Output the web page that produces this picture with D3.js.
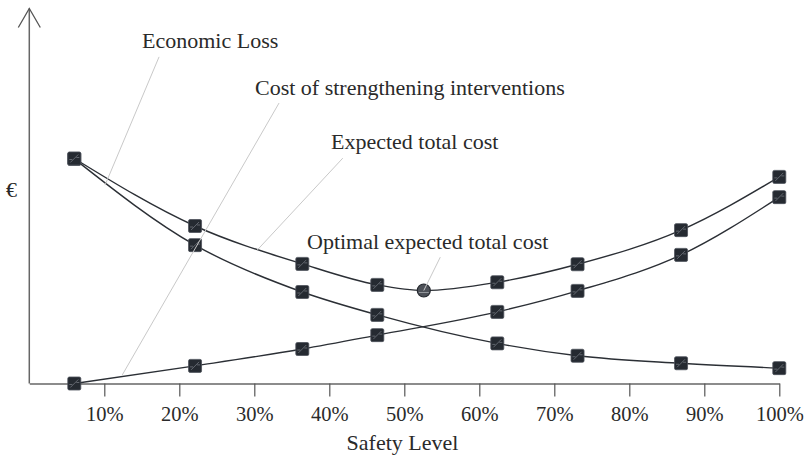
<!DOCTYPE html>
<html>
<head>
<meta charset="utf-8">
<script src="https://cdn.jsdelivr.net/npm/d3@7"></script>
<style>
  body { margin: 0; background: #fff; }
  svg { display: block; font-family: "Liberation Serif", "Times New Roman", serif; }
</style>
</head>
<body>
<div id="chart-area"></div>
<script>
// safety level (%) of each design option
var levels = [6, 22.1, 36.4, 46.4, 62.4, 73.1, 86.9, 100];
// costs, arbitrary units
var economicLoss = [59.9, 36.9, 24.4, 18.3, 10.7, 7.4, 5.4, 4.1];
var strengthening = [0, 4.7, 9.2, 12.9, 19.1, 24.7, 34.3, 49.7];
var totalCost = [60.0, 42.0, 31.9, 26.3, 27.0, 31.8, 40.9, 55.1];
var optimum = { level: 52.6, cost: 24.8 };
var tickLabels = [10, 20, 30, 40, 50, 60, 70, 80, 90, 100];

// label text + leader line (from / to in data units)
var notes = [
  { text: "Economic Loss", from: [17.3, 87.1], to: [10.1, 52.9] },
  { text: "Cost of strengthening interventions", from: [33.3, 74.8], to: [12.4, 2.3] },
  { text: "Expected total cost", from: [41.8, 60.1], to: [30.4, 35.6] },
  { text: "Optimal expected total cost", from: [54.8, 33.7], to: [optimum.level, optimum.cost] }
];
var notePos = [[142, 48], [255, 95], [331, 149], [307, 249]];

var width = 808, height = 455;

var svg = d3.select("#chart-area")
  .append("svg")
  .attr("width", width)
  .attr("height", height);

var x = d3.scaleLinear().domain([0, 100]).range([29.3, 779.3]);
var y = d3.scaleLinear().domain([0, 100]).range([383.5, 8.5]);

// x axis
var xAxisCall = d3.axisBottom(x)
  .tickValues(tickLabels)
  .tickFormat(function(d){ return d + "%"; })
  .tickSize(13)
  .tickSizeOuter(0)
  .tickPadding(10);

var xAxis = svg.append("g")
  .attr("transform", "translate(0," + y(0) + ")")
  .call(xAxisCall);
xAxis.select(".domain").attr("stroke", "#666").attr("stroke-width", 1.5);
xAxis.selectAll(".tick line").attr("stroke", "#555").attr("stroke-width", 1.2);
xAxis.selectAll(".tick text")
  .attr("fill", "#2a2a2a")
  .style("font-family", "Liberation Serif")
  .style("font-size", "20.5px");

// y axis with open arrow head
svg.append("line")
  .attr("x1", x(0)).attr("x2", x(0))
  .attr("y1", y(0)).attr("y2", y(100))
  .attr("stroke", "#666").attr("stroke-width", 1.5);
svg.append("path")
  .attr("d", "M" + (x(0) - 11) + "," + (y(100) + 19) + "L" + x(0) + "," + y(100) + "L" + (x(0) + 11) + "," + (y(100) + 19))
  .attr("fill", "none").attr("stroke", "#555").attr("stroke-width", 1.3);

svg.append("text")
  .attr("x", 6).attr("y", 197)
  .attr("font-size", "22px")
  .attr("fill", "#2a2a2a")
  .text("€");

svg.append("text")
  .attr("x", 402.5).attr("y", 450)
  .attr("text-anchor", "middle")
  .attr("font-size", "22px")
  .attr("fill", "#2a2a2a")
  .text("Safety Level");

// series
var lossPts = levels.map(function(l, i){ return [l, economicLoss[i]]; });
var costPts = levels.map(function(l, i){ return [l, strengthening[i]]; });
var totalPts = levels.map(function(l, i){ return [l, totalCost[i]]; });
var totalCurvePts = totalPts.concat([[optimum.level, optimum.cost]])
  .sort(function(a, b){ return a[0] - b[0]; });

var line = d3.line()
  .x(function(d){ return x(d[0]); })
  .y(function(d){ return y(d[1]); })
  .curve(d3.curveMonotoneX);

[lossPts, costPts, totalCurvePts].forEach(function(pts){
  svg.append("path")
    .attr("d", line(pts))
    .attr("fill", "none")
    .attr("stroke", "#2b2f35")
    .attr("stroke-width", 1.4);
});

// square markers
var allPts = lossPts.concat(costPts, totalPts);
var marks = svg.selectAll(".mark").data(allPts).enter()
  .append("g")
  .attr("class", "mark")
  .attr("transform", function(d){ return "translate(" + x(d[0]) + "," + y(d[1]) + ")"; });
marks.append("rect")
  .attr("x", -6.5).attr("y", -6.5)
  .attr("width", 13).attr("height", 13)
  .attr("rx", 1.5)
  .attr("fill", "#252a31")
  .attr("stroke", "#4d525a")
  .attr("stroke-width", 0.8);
marks.append("path")
  .attr("d", "M-4,4L4,-4M-5,1L-2,1M2,-1L5,-1")
  .attr("stroke", "#7b8088")
  .attr("stroke-width", 0.7);

// optimum point
var opt = svg.append("g")
  .attr("transform", "translate(" + x(optimum.level) + "," + y(optimum.cost) + ")");
opt.append("circle")
  .attr("r", 6.5)
  .attr("fill", "#4d5158")
  .attr("stroke", "#25292f")
  .attr("stroke-width", 1.2);
opt.append("path")
  .attr("d", "M-5,2L5,2")
  .attr("stroke", "#a6a9ad")
  .attr("stroke-width", 0.8);

// leaders + labels
svg.selectAll(".leader").data(notes).enter()
  .append("line")
  .attr("class", "leader")
  .attr("x1", function(d){ return x(d.from[0]); })
  .attr("y1", function(d){ return y(d.from[1]); })
  .attr("x2", function(d){ return x(d.to[0]); })
  .attr("y2", function(d){ return y(d.to[1]); })
  .attr("stroke", "#c9c9c9")
  .attr("stroke-width", 1);

svg.selectAll(".note").data(notes).enter()
  .append("text")
  .attr("class", "note")
  .attr("x", function(d, i){ return notePos[i][0]; })
  .attr("y", function(d, i){ return notePos[i][1]; })
  .attr("font-size", "22px")
  .attr("fill", "#2a2a2a")
  .text(function(d){ return d.text; });
</script>
</body>
</html>
